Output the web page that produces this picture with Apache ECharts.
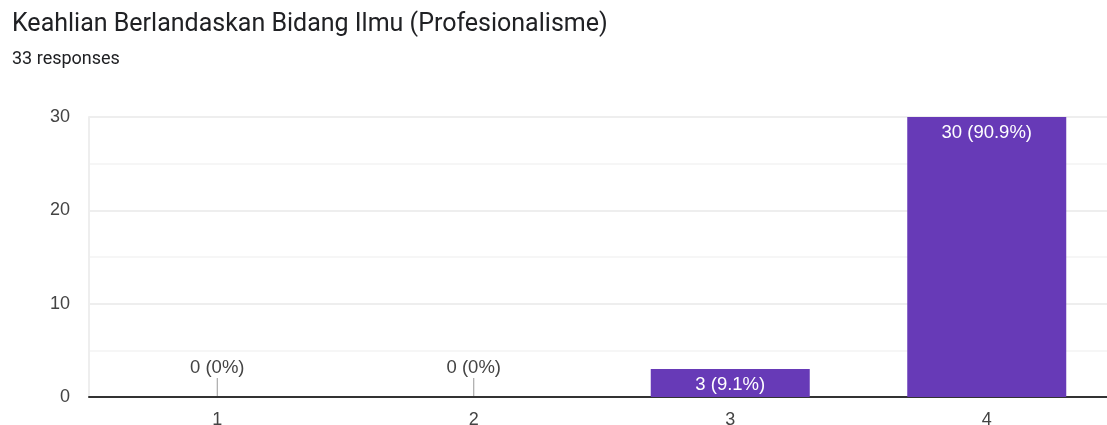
<!DOCTYPE html>
<html>
<head>
<meta charset="utf-8">
<script src="https://cdn.jsdelivr.net/npm/echarts@6/dist/echarts.min.js"></script>
<style>
  html, body { margin: 0; padding: 0; background: #fff; }
  #chart { width: 1107px; height: 425px; }
</style>
</head>
<body>
<div id="chart"></div>
<script>
const titleText = "Keahlian Berlandaskan Bidang Ilmu (Profesionalisme)";
const subText = "33 responses";
const categories = ["1", "2", "3", "4"];
const counts = [0, 0, 3, 30];
const percents = ["0%", "0%", "9.1%", "90.9%"];
const yTicks = [0, 10, 20, 30];

const titleFont = "Roboto, Arial, sans-serif";
const font = "'Liberation Sans', Arial, sans-serif";
const myChart = echarts.init(document.getElementById("chart"));

myChart.setOption({
  animation: false,
  title: {
    text: titleText,
    subtext: subText,
    left: 7,
    top: 7,
    itemGap: 13,
    textStyle: { fontFamily: titleFont, fontSize: 25, fontWeight: "normal", color: "#202124" },
    subtextStyle: { fontFamily: titleFont, fontSize: 18, color: "#202124" },
  },
  grid: { left: 89, width: 1026, top: 117, bottom: 28, outerBoundsMode: "none", containLabel: false },
  xAxis: {
    type: "category",
    data: categories,
    axisLine: { lineStyle: { color: "#333", width: 2 } },
    axisTick: { show: false },
    axisLabel: { color: "#444", fontFamily: font, fontSize: 18, margin: 14 },
  },
  yAxis: {
    type: "value",
    min: yTicks[0],
    max: yTicks[yTicks.length - 1],
    interval: 10,
    axisLine: { show: true, lineStyle: { color: "#eeeeee", width: 2 } },
    axisTick: { show: false },
    axisLabel: { color: "#444", fontFamily: font, fontSize: 18, margin: 19 },
    splitLine: { lineStyle: { color: "#eeeeee", width: 2 } },
    minorTick: { show: false, splitNumber: 2 },
    minorSplitLine: { show: true, lineStyle: { color: "#f6f6f6", width: 2 } },
  },
  series: [
    {
      type: "bar",
      data: counts.map((v, i) => ({
        value: v,
        label: v === 0
          ? { position: "top", distance: 20, color: "#444" }
          : { position: "insideTop", distance: 6, color: "#fff" },
      })),
      barWidth: 159,
      itemStyle: { color: "#673ab7" },
      label: {
        show: true,
        fontFamily: font,
        fontSize: 18.5,
        formatter: (p) => counts[p.dataIndex] + " (" + percents[p.dataIndex] + ")",
      },
      z: 3,
    },
    {
      type: "custom",
      data: counts.map((v, i) => [i, v]),
      renderItem: (params, api) => {
        if (api.value(1) !== 0) return null;
        const p = api.coord([api.value(0), 0]);
        return {
          type: "line",
          shape: { x1: p[0], y1: p[1] - 1, x2: p[0], y2: p[1] - 19 },
          style: { stroke: "#999", lineWidth: 1 },
        };
      },
      z: 4,
    },
  ],
});
</script>
</body>
</html>
